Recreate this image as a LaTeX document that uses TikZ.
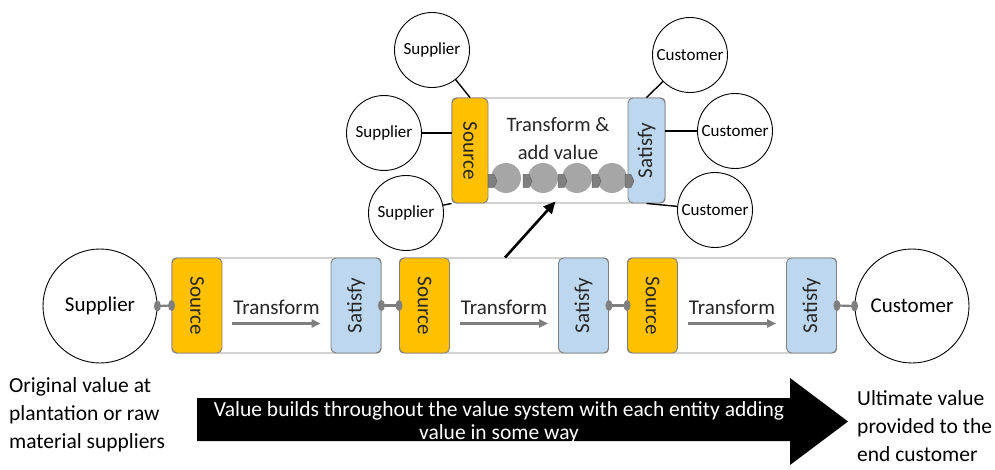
\documentclass[tikz,border=0pt]{standalone}
\usepackage{fontspec}
\setmainfont{Carlito}
\usetikzlibrary{arrows.meta,shapes.symbols,calc}
\definecolor{srcor}{HTML}{FFC000}
\definecolor{satbl}{HTML}{BDD7EE}
\definecolor{edge}{HTML}{7F7F7F}
\definecolor{ball}{HTML}{A6A6A6}
\definecolor{chev}{HTML}{7F7F7F}
\tikzset{
  frame/.style={draw=edge, fill=white, rounded corners=4pt, line width=0.9pt,
    minimum width=209pt, minimum height=95pt, inner sep=0pt},
  srcbox/.style={draw=edge, fill=srcor, rounded corners=5pt, line width=0.9pt,
    minimum width=50pt, minimum height=95pt, inner sep=0pt},
  satbox/.style={srcbox, fill=satbl},
  vlabel/.style={font=\fontsize{21}{24}\selectfont, text=black!85},
  party/.style={circle, draw=black, line width=0.9pt, fill=white, minimum size=114pt,
    inner sep=0pt, font=\fontsize{21}{24}\selectfont},
  small/.style={circle, draw=black, line width=0.9pt, fill=white, minimum size=75pt,
    inner sep=0pt, font=\fontsize{17}{20}\selectfont},
  link/.style={draw=edge, line width=2.2pt},
  dot/.style={fill=edge},
  flow/.style={draw=edge, line width=3pt, -{Triangle[length=9pt,width=8pt]}},
  tie/.style={draw=black, line width=1.4pt},
  chevron/.style={signal, signal to=east, signal pointer angle=130, draw=black!60,
    fill=chev, line width=0.5pt, minimum width=9pt, minimum height=13pt, inner sep=0pt},
  note/.style={align=left, font=\fontsize{21.5}{28}\selectfont, anchor=north west, inner sep=0pt}
}
\begin{document}
\begin{tikzpicture}[x=1pt,y=-1pt]
\useasboundingbox (0,0) rectangle (995,470);

% end parties of the chain
\node[party] (sup) at (100,306) {Supplier};
\node[party] (cus) at (912,306) {Customer};

% three entities in the value system
\foreach \i/\cx in {1/276.5, 2/504, 3/732} {
  \node[frame] (b\i) at (\cx,305.5) {};
  \node[srcbox, anchor=west] (s\i) at (b\i.west) {};
  \node[satbox, anchor=east] (t\i) at (b\i.east) {};
  \node[vlabel, rotate=-90] at (s\i) {Source};
  \node[vlabel, rotate=90] at (t\i) {Satisfy};
  \node[vlabel] (tx\i) at ($(s\i.east)!0.5!(t\i.west)+(0,2)$) {Transform};
  \coordinate (fa\i) at ($(s\i.east)+(10,18)$);
  \coordinate (fb\i) at ($(t\i.west)+(-10,18)$);
  \draw[flow] (fa\i) -- (fb\i);
}

% links between neighbours in the chain
\foreach \a/\b in {sup/s1, t1/s2, t2/s3, t3/cus} {
  \draw[link] (\a.east) -- (\b.west);
  \fill[dot] (\a.east) ellipse (3.5pt and 5.5pt);
  \fill[dot] (\b.west) ellipse (3.5pt and 5.5pt);
}

% zoomed-in entity
\node[frame, minimum width=213pt, minimum height=105pt] (tb) at (558.5,150.5) {};
\node[srcbox, minimum width=36pt, minimum height=105pt, anchor=west] (ts) at (tb.west) {};
\node[satbox, minimum width=37pt, minimum height=105pt, anchor=east] (tt) at (tb.east) {};
\node[vlabel, rotate=-90] at (ts) {Source};
\node[vlabel, rotate=90] at (tt) {Satisfy};
\node[vlabel, align=center, font=\fontsize{20.5}{28}\selectfont] (tv) at (558,139) {Transform \&\\add value};

% internal process steps
\foreach \k/\x in {1/506, 2/543, 3/577, 4/612}
  \fill[ball] (\x,178) circle (15pt);
\foreach \k/\x in {1/491, 2/526, 3/561, 4/595, 5/628}
  \node[chevron] (c\k) at (\x,181) {};

% suppliers and customers of the zoomed-in entity
\node[small] (spa) at (432,50) {Supplier};
\node[small] (spb) at (384,133) {Supplier};
\node[small] (spc) at (406,213) {Supplier};
\node[small] (cua) at (690,55) {Customer};
\node[small] (cub) at (735,131) {Customer};
\node[small] (cuc) at (715,210) {Customer};
\draw[tie] (spa) -- (ts.north);
\draw[tie] (spb.east) -- (spb.east -| ts.west);
\draw[tie] (spc) -- (ts.south west);
\draw[tie] (cua) -- (tt.north);
\draw[tie] (cub.west) -- (cub.west -| tt.east);
\draw[tie] (cuc) -- (tt.south);

% zoom arrow
\draw[draw=black, line width=2.6pt, -{Triangle[length=12pt,width=11pt]}]
  ([xshift=1pt]b2.north) -- ([xshift=-3pt,yshift=2pt]tb.south);

% value accumulation arrow
\fill[black] (197,398) -- (790,398) -- (790,378) -- (848,421.5) -- (790,465)
  -- (790,441) -- (197,441) -- cycle;
\node[text=white, align=center, font=\fontsize{21.5}{23}\selectfont] (va) at (499,422.5)
  {Value builds throughout the value system with each entity adding\\value in some way};

% end notes
\node[note] (nl) at (9,377) {Original value at\\plantation or raw\\material suppliers};
\node[note] (nr) at (857,390) {Ultimate value\\provided to the\\end customer};
\end{tikzpicture}
\end{document}
